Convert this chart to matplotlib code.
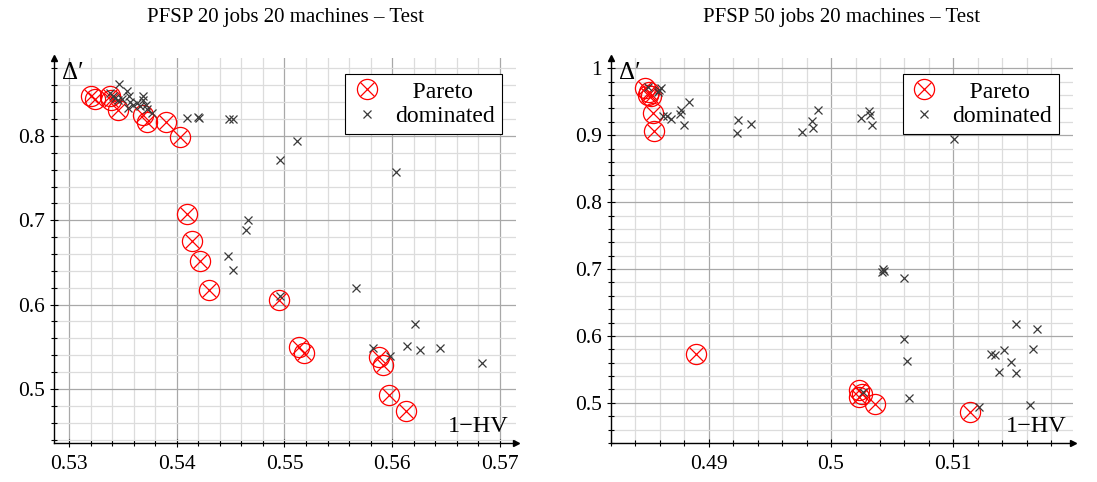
import matplotlib.pyplot as plt
from matplotlib.ticker import MultipleLocator, FuncFormatter
from matplotlib.lines import Line2D

plt.rcParams['font.family'] = ['Liberation Serif', 'DejaVu Serif']

# ---- PFSP 20x20 ----
p20_x = [0.53208, 0.53239, 0.53379, 0.53394, 0.53457, 0.53683, 0.53720, 0.53898, 0.54031,
         0.54093, 0.54139, 0.54217, 0.54300, 0.54950, 0.55137, 0.55183, 0.55876, 0.55913,
         0.55975, 0.56124]
p20_y = [0.8476, 0.8440, 0.8468, 0.8428, 0.8308, 0.8248, 0.8168, 0.8168, 0.7988,
         0.708, 0.676, 0.6516, 0.6168, 0.6056, 0.550, 0.5432, 0.5384, 0.528,
         0.4932, 0.474]
d20_x = [0.53466, 0.53379, 0.53404, 0.53425, 0.53457, 0.53488, 0.53540, 0.53559, 0.53565,
         0.53550, 0.53596, 0.53634, 0.53658, 0.53689, 0.53689, 0.53714, 0.53727, 0.53767,
         0.54093, 0.54196, 0.54208, 0.54481, 0.54522, 0.55112, 0.54957, 0.56035,
         0.54666, 0.54644, 0.54480, 0.54520, 0.54960, 0.55668, 0.56211, 0.56134,
         0.56258, 0.56444, 0.56832, 0.55820, 0.55984]
d20_y = [0.862, 0.8508, 0.8476, 0.8448, 0.8428, 0.8436, 0.8528, 0.8468, 0.8408,
         0.8328, 0.8368, 0.8388, 0.8356, 0.8476, 0.8428, 0.8368, 0.8316, 0.8268,
         0.8208, 0.8228, 0.8212, 0.820, 0.820, 0.7936, 0.7716, 0.7568,
         0.700, 0.688, 0.658, 0.6416, 0.6108, 0.6192, 0.5772, 0.5512,
         0.546, 0.548, 0.5304, 0.548, 0.5392]

# ---- PFSP 50x20 ----
p50_x = [0.48481, 0.48514, 0.48500, 0.48527, 0.48541, 0.48555,
         0.48893, 0.50231, 0.50225, 0.50253, 0.50363, 0.51137]
p50_y = [0.970, 0.965, 0.960, 0.958, 0.934, 0.9065,
         0.5725, 0.5185, 0.5085, 0.5125, 0.4985, 0.487]
d50_x = [0.48500, 0.48596, 0.48610, 0.48582, 0.48624, 0.48660, 0.48687, 0.48761, 0.48775,
         0.48838, 0.48797, 0.49236, 0.49228, 0.49346, 0.49764, 0.49841, 0.49852, 0.49896,
         0.50245, 0.50308, 0.50319, 0.50335, 0.51002,
         0.50423, 0.50431, 0.50418, 0.50596, 0.50596, 0.50624, 0.50637, 0.50258, 0.51214,
         0.51514, 0.51681, 0.51654, 0.51412, 0.51310, 0.51343, 0.51475, 0.51376, 0.51514,
         0.51624]
d50_y = [0.9715, 0.968, 0.970, 0.965, 0.929, 0.929, 0.924, 0.9325, 0.938,
         0.949, 0.915, 0.923, 0.903, 0.9175, 0.905, 0.9215, 0.9115, 0.9375,
         0.9255, 0.9365, 0.9305, 0.915, 0.894,
         0.700, 0.6975, 0.696, 0.687, 0.595, 0.562, 0.5075, 0.516, 0.4935,
         0.6185, 0.611, 0.581, 0.5785, 0.5725, 0.572, 0.561, 0.546, 0.5445,
         0.496]

titles = ['PFSP 20 jobs 20 machines – Test', 'PFSP 50 jobs 20 machines – Test']

RED = '#ff0000'
DARK = '#3a3a3a'

fig = plt.figure(figsize=(10.97, 4.82), dpi=100)
ax1 = fig.add_axes([0.0492, 0.081, 0.4212, 0.798])
ax2 = fig.add_axes([0.557, 0.081, 0.4212, 0.798])


def fmt(v, pos):
    return '%g' % round(v, 4)


def style_axes(ax, xlim, ylim, xmaj, ymaj):
    ax.set_xlim(*xlim)
    ax.set_ylim(*ylim)
    ax.xaxis.set_major_locator(MultipleLocator(xmaj))
    ax.xaxis.set_minor_locator(MultipleLocator(xmaj / 5))
    ax.yaxis.set_major_locator(MultipleLocator(ymaj))
    ax.yaxis.set_minor_locator(MultipleLocator(ymaj / 5))
    ax.xaxis.set_major_formatter(FuncFormatter(fmt))
    ax.yaxis.set_major_formatter(FuncFormatter(fmt))
    ax.grid(which='major', color='#a8a8a8', lw=0.9)
    ax.grid(which='minor', color='#dcdcdc', lw=0.9)
    ax.set_axisbelow(True)
    for s in ('top', 'right'):
        ax.spines[s].set_visible(False)
    for s in ('left', 'bottom'):
        ax.spines[s].set_linewidth(1.0)
    ax.tick_params(which='both', direction='inout', labelsize=15.5, width=0.8)
    ax.tick_params(which='major', length=6)
    ax.tick_params(which='minor', length=4)
    ax.tick_params(axis='x', pad=6)
    ax.plot(1, 0, '>', color='k', ms=5, transform=ax.transAxes, clip_on=False)
    ax.plot(0, 1, '^', color='k', ms=5, transform=ax.transAxes, clip_on=False)
    ax.text(0.018, 0.99, 'Δ′', transform=ax.transAxes, fontsize=18, va='top', ha='left')
    ax.text(0.985, 0.015, '1−HV', transform=ax.transAxes, fontsize=17.5, va='bottom', ha='right')


def draw(ax, px, py, dx, dy, title):
    ax.plot(px, py, 'o', ms=14.5, mfc='none', mec=RED, mew=0.9, ls='none')
    ax.plot(px, py, 'x', ms=10, mec=RED, mew=0.9, ls='none')
    ax.plot(dx, dy, 'x', ms=5.5, mec=DARK, mew=0.9, ls='none')
    ax.set_title(title, fontsize=15, pad=26)
    h1 = (Line2D([], [], marker='o', ms=14.5, mfc='none', mec=RED, mew=0.9, ls='none'),
          Line2D([], [], marker='x', ms=10, mec=RED, mew=0.9, ls='none'))
    h2 = Line2D([], [], marker='x', ms=5.5, mec=DARK, mew=0.9, ls='none')
    leg = ax.legend([h1, h2], ['   Pareto', 'dominated'], loc='upper right',
                    bbox_to_anchor=(0.995, 0.99), fontsize=17, fancybox=False,
                    edgecolor='k', framealpha=1, handlelength=1.2, borderpad=0.3,
                    labelspacing=0.12, handletextpad=0.6)
    leg.get_frame().set_linewidth(0.8)


style_axes(ax1, (0.5286, 0.5715), (0.436, 0.892), 0.01, 0.1)
draw(ax1, p20_x, p20_y, d20_x, d20_y, titles[0])
style_axes(ax2, (0.482, 0.5198), (0.44, 1.015), 0.01, 0.1)
draw(ax2, p50_x, p50_y, d50_x, d50_y, titles[1])

fig.savefig('out.png', dpi=100)
